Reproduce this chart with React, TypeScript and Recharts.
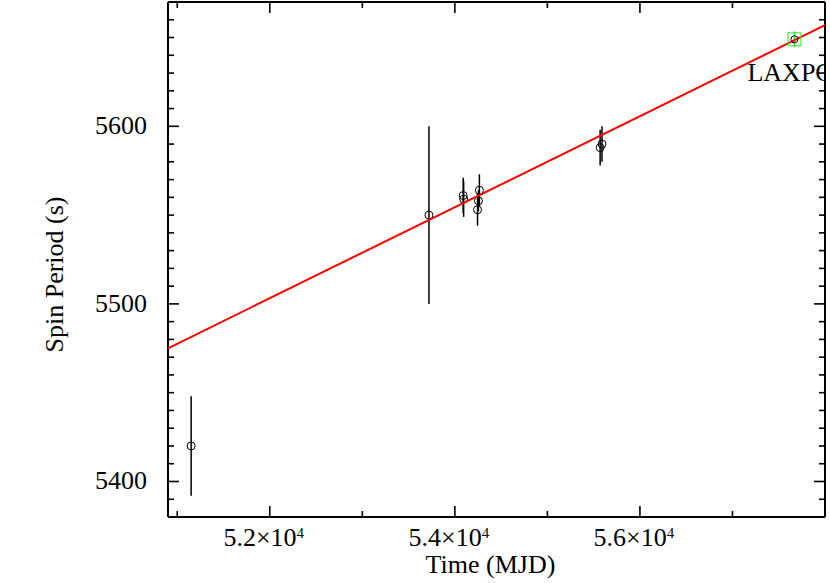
import React from "react";
import { ComposedChart, Scatter, XAxis, YAxis, ErrorBar, ReferenceLine } from "recharts";

// spin period measurements (MJD, period in s, 1-sigma error)
const mjd = [51150, 53720, 54090, 54095, 54265, 54255, 54245, 55590, 55570];
const period = [5420, 5550, 5561, 5559, 5564, 5558, 5553, 5590, 5588];
const periodErr = [28, 50, 10, 10, 9, 6, 9, 10, 10];

// LAXPC point
const laxpcMjd = [57670];
const laxpcPeriod = [5649];
const laxpcErr = [4.5];

// linear fit end points
const fitMjd = [50900, 58000];
const fitPeriod = [5475, 5657];

const xMajorTicks = [52000, 54000, 56000];
const xMinorTicks = [51000, 53000, 55000, 57000];
const yMajorTicks = [5400, 5500, 5600];
const yMinorTicks = Array.from({ length: 28 }, (_, i) => 5390 + i * 10).filter(
  (v) => !yMajorTicks.includes(v)
);

const xDomain: [number, number] = [50900, 58000];
const yDomain: [number, number] = [5380, 5670];

const points = mjd.map((x, i) => ({ x, y: period[i], err: periodErr[i] }));
const laxpc = laxpcMjd.map((x, i) => ({ x, y: laxpcPeriod[i], err: laxpcErr[i] }));
const fit = fitMjd.map((x, i) => ({ x, y: fitPeriod[i] }));
const laxpcLabel = [{ x: 57162, y: 5625.3 }];

const xTicks = [...xMinorTicks, ...xMajorTicks].sort((a, b) => a - b);
const yTicks = [...yMinorTicks, ...yMajorTicks].sort((a, b) => a - b);

// layout
const W = 830;
const H = 583;
const M = { top: 2, right: 5, bottom: 0, left: 0 };
const Y_AXIS_W = 168;
const X_AXIS_H = 66;
const PLOT_LEFT = M.left + Y_AXIS_W;
const PLOT_RIGHT = W - M.right;
const PLOT_TOP = M.top;
const PLOT_BOTTOM = H - M.bottom - X_AXIS_H;

const FONT = '"Liberation Serif", "Times New Roman", serif';
const MAJOR = 11;
const MINOR = 6;
const TICK_W = 1.6;

const isMajorX = (v: number) => xMajorTicks.includes(v);
const isMajorY = (v: number) => yMajorTicks.includes(v);

// bottom ticks, mirrored on the top border
const BottomTick = (props: any) => {
  const { payload } = props;
  const x = payload.coordinate;
  const v = payload.value;
  const major = isMajorX(v);
  const len = major ? MAJOR : MINOR;
  return (
    <g>
      <line x1={x} y1={PLOT_BOTTOM} x2={x} y2={PLOT_BOTTOM - len} stroke="#000" strokeWidth={TICK_W} />
      <line x1={x} y1={PLOT_TOP} x2={x} y2={PLOT_TOP + len} stroke="#000" strokeWidth={TICK_W} />
      {major && (
        <text x={x - 6} y={PLOT_BOTTOM + 29} textAnchor="middle" fontSize={26} fontFamily={FONT} fill="#000">
          {(v / 10000).toFixed(1)}×10
          <tspan dy={-8} fontSize={15}>
            4
          </tspan>
        </text>
      )}
    </g>
  );
};

// left ticks, mirrored on the right border
const LeftTick = (props: any) => {
  const { payload } = props;
  const y = payload.coordinate;
  const v = payload.value;
  const major = isMajorY(v);
  const len = major ? MAJOR : MINOR;
  return (
    <g>
      <line x1={PLOT_LEFT} y1={y} x2={PLOT_LEFT + len} y2={y} stroke="#000" strokeWidth={TICK_W} />
      <line x1={PLOT_RIGHT} y1={y} x2={PLOT_RIGHT - len} y2={y} stroke="#000" strokeWidth={TICK_W} />
      {major && (
        <text x={PLOT_LEFT - 21} y={y + 8} textAnchor="end" fontSize={26} fontFamily={FONT} fill="#000">
          {v}
        </text>
      )}
    </g>
  );
};

const OpenCircle = (p: any) => (
  <circle cx={p.cx} cy={p.cy} r={4} fill="none" stroke="#000" strokeWidth={1} />
);

const LaxpcMarker = (p: any) => (
  <g>
    <rect x={p.cx - 6.5} y={p.cy - 6.5} width={13} height={13} fill="none" stroke="#22ee22" strokeWidth={1} />
    <circle cx={p.cx} cy={p.cy} r={3.5} fill="none" stroke="#000" strokeWidth={1} />
  </g>
);

const LabelText = (p: any) => (
  <text x={p.cx} y={p.cy} fontSize={26} fontFamily={FONT} fill="#000">
    LAXPC
  </text>
);

const YLabel = () => {
  const cx = 63;
  const cy = (PLOT_TOP + PLOT_BOTTOM) / 2 + 15;
  return (
    <text
      x={cx}
      y={cy}
      transform={`rotate(-90, ${cx}, ${cy})`}
      textAnchor="middle"
      fontSize={26}
      fontFamily={FONT}
      fill="#000"
    >
      Spin Period (s)
    </text>
  );
};

const XLabel = () => (
  <text
    x={(PLOT_LEFT + PLOT_RIGHT) / 2 - 6}
    y={H - 10}
    textAnchor="middle"
    fontSize={26}
    fontFamily={FONT}
    fill="#000"
  >
    Time (MJD)
  </text>
);

export default function App() {
  const axisLine = { stroke: "#000", strokeWidth: 2 };
  return (
    <div style={{ position: "absolute", left: 0, top: 0, background: "#fff" }}>
      <ComposedChart width={W} height={H} margin={M}>
        <XAxis
          type="number"
          dataKey="x"
          domain={xDomain}
          allowDataOverflow
          ticks={xTicks}
          interval={0}
          height={X_AXIS_H}
          tickLine={false}
          axisLine={axisLine}
          tick={<BottomTick />}
          label={{ content: XLabel }}
        />
        <YAxis
          type="number"
          dataKey="y"
          domain={yDomain}
          allowDataOverflow
          ticks={yTicks}
          interval={0}
          width={Y_AXIS_W}
          tickLine={false}
          axisLine={axisLine}
          tick={<LeftTick />}
          label={{ content: YLabel }}
        />
        {/* top and right frame */}
        <ReferenceLine y={yDomain[1]} stroke="#000" strokeWidth={2} />
        <ReferenceLine x={xDomain[1]} stroke="#000" strokeWidth={2} />
        <Scatter data={points} shape={OpenCircle} isAnimationActive={false}>
          <ErrorBar dataKey="err" direction="y" width={0} stroke="#000" strokeWidth={1.5} />
        </Scatter>
        <Scatter
          data={fit}
          line={{ stroke: "#ff0000", strokeWidth: 2 }}
          shape={() => <g />}
          isAnimationActive={false}
        />
        <Scatter data={laxpc} shape={LaxpcMarker} isAnimationActive={false}>
          <ErrorBar dataKey="err" direction="y" width={0} stroke="#22ee22" strokeWidth={1.5} />
        </Scatter>
        <Scatter data={laxpcLabel} shape={LabelText} isAnimationActive={false} />
      </ComposedChart>
    </div>
  );
}
